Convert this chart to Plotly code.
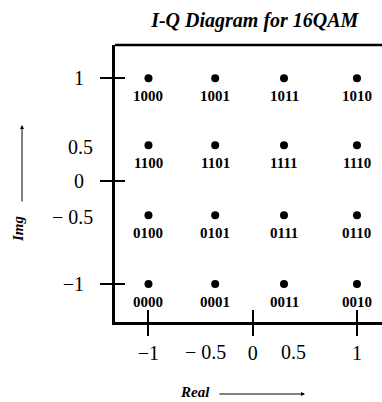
import plotly.graph_objects as go

# ---- data ----
i_levels = [-1.0, -0.36, 0.30, 1.0]
q_levels = [1.0, 0.35, -0.33, -1.0]
bit_rows = [
    ["1000", "1001", "1011", "1010"],
    ["1100", "1101", "1111", "1110"],
    ["0100", "0101", "0111", "0110"],
    ["0000", "0001", "0011", "0010"],
]
x_tick_vals = [-1, 0, 1]
x_tick_text = ["\u22121", "0", "1"]
y_tick_vals = [-1, 0, 1]
y_tick_text = ["\u22121", "0", "1"]
x_half_pos = [-0.45, 0.39]
x_half_text = ["\u2212 0.5", "0.5"]
y_half_pos = [0.33, -0.35]
y_half_text = ["0.5", "\u2212 0.5"]

xs, ys, labels = [], [], []
for r, q in enumerate(q_levels):
    for c, i in enumerate(i_levels):
        xs.append(i)
        ys.append(q)
        labels.append(bit_rows[r][c])

SERIF = "Liberation Serif, Times New Roman, DejaVu Serif, serif"

fig = go.Figure()
fig.add_trace(go.Scatter(
    x=xs, y=ys, mode="markers",
    marker=dict(size=8, color="black"),
    hoverinfo="skip", showlegend=False, cliponaxis=False,
))
# invisible trace on overlay axes
fig.add_trace(go.Scatter(x=[0], y=[0], xaxis="x2", yaxis="y2", mode="markers",
                         marker=dict(opacity=0), showlegend=False, hoverinfo="skip"))

xr = [-1.321, 1.240]
yr = [-1.369, 1.324]

fig.update_layout(
    width=382, height=402,
    margin=dict(l=115, r=0, t=45, b=80),
    paper_bgcolor="white", plot_bgcolor="white",
    font=dict(family=SERIF, color="black"),
    title=dict(text="<b><i>I-Q Diagram for 16QAM</i></b>", x=0.667, xref="container",
               xanchor="center", y=1 - 20 / 402, yanchor="middle",
               font=dict(family=SERIF, size=20, color="black")),
    xaxis=dict(range=xr, tickvals=x_tick_vals, ticktext=x_tick_text,
               showgrid=False, zeroline=False, showline=True, linewidth=3, linecolor="black",
               ticks="outside", ticklen=11, tickwidth=2, tickcolor="black",
               tickfont=dict(family=SERIF, size=20, color="black"), ticklabelstandoff=0),
    xaxis2=dict(range=xr, overlaying="x", side="bottom", anchor="y", tickvals=x_tick_vals,
                showticklabels=False, showgrid=False, zeroline=False, showline=False,
                ticks="inside", ticklen=12, tickwidth=2, tickcolor="black"),
    yaxis=dict(range=yr, tickvals=y_tick_vals, ticktext=y_tick_text,
               showgrid=False, zeroline=False, showline=True, linewidth=3, linecolor="black",
               ticks="outside", ticklen=12, tickwidth=1.5, tickcolor="black",
               tickfont=dict(family=SERIF, size=20, color="black"), ticklabelstandoff=12),
    yaxis2=dict(range=yr, overlaying="y", side="left", anchor="x", tickvals=y_tick_vals,
                showticklabels=False, showgrid=False, zeroline=False, showline=False,
                ticks="inside", ticklen=10, tickwidth=1.5, tickcolor="black"),
    shapes=[dict(type="line", xref="paper", yref="paper", x0=0, x1=1, y0=1, y1=1,
                 line=dict(color="black", width=2.5))],
)

ann = []
for x, y, t in zip(xs, ys, labels):
    ann.append(dict(x=x, y=y, xref="x", yref="y", text="<b>" + t + "</b>", showarrow=False,
                    xanchor="center", yanchor="middle", yshift=-18,
                    font=dict(family=SERIF, size=15, color="black")))
for p, t in zip(x_half_pos, x_half_text):
    ann.append(dict(x=p, xref="x", y=0, yref="paper", yanchor="middle", yshift=-30,
                    text=t, showarrow=False, font=dict(family=SERIF, size=20, color="black")))
for p, t in zip(y_half_pos, y_half_text):
    ann.append(dict(x=0, xref="paper", xanchor="right", xshift=-20, y=p, yref="y",
                    yanchor="middle", text=t, showarrow=False,
                    font=dict(family=SERIF, size=20, color="black")))
# axis titles with arrows
ann.append(dict(x=(195 - 115) / 267, xref="paper", y=(322 - 392) / 277, yref="paper",
                xanchor="center", yanchor="middle",
                text="<b><i>Real</i></b>", showarrow=False,
                font=dict(family=SERIF, size=15, color="black")))
ann.append(dict(x=(305 - 115) / 267, xref="paper", y=(322 - 394) / 277, yref="paper",
                text="", showarrow=True, ax=-87, ay=0, arrowhead=2, arrowsize=0.8,
                arrowwidth=1, arrowcolor="black"))
ann.append(dict(x=(18 - 115) / 267, xref="paper", y=(322 - 229) / 277, yref="paper",
                xanchor="center", yanchor="middle",
                text="<b><i>Img</i></b>", textangle=-90, showarrow=False,
                font=dict(family=SERIF, size=15, color="black")))
ann.append(dict(x=(22 - 115) / 267, xref="paper", y=(322 - 125) / 277, yref="paper",
                text="", showarrow=True, ax=0, ay=78, arrowhead=2, arrowsize=0.8,
                arrowwidth=1, arrowcolor="black"))
fig.update_layout(annotations=ann)

fig.write_html("out.html")
